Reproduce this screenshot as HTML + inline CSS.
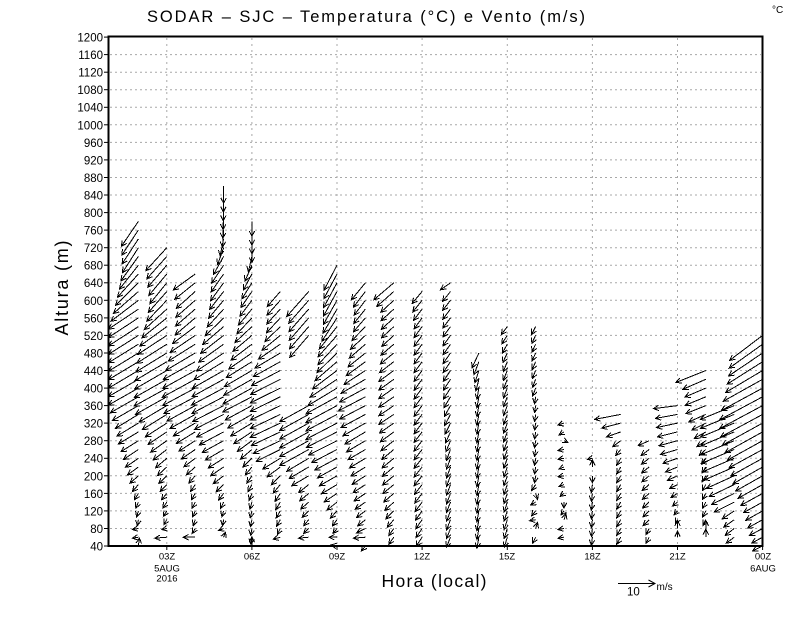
<!DOCTYPE html>
<html>
<head>
<meta charset="utf-8">
<style>
html,body{margin:0;padding:0;background:#fff;}
svg{display:block;}
text{font-family:"Liberation Sans",sans-serif;fill:#000;}
</style>
</head>
<body>
<svg id="chart" width="800" height="618" viewBox="0 0 800 618" xmlns="http://www.w3.org/2000/svg">
<rect x="0" y="0" width="800" height="618" fill="#fff"/>
<!-- title -->
<text x="147" y="22" font-size="16.5" textLength="438" lengthAdjust="spacing">SODAR – SJC – Temperatura (°C) e Vento (m/s)</text>
<text x="772" y="13" font-size="10">°C</text>

<!-- grid -->
<g stroke="#a8a8a8" stroke-width="1" stroke-dasharray="2 3" fill="none" id="grid"></g>

<!-- vectors -->
<path id="vec" d="" stroke="#000" stroke-width="1" fill="none" shape-rendering="crispEdges"/>

<!-- frame -->
<rect x="108.5" y="36.5" width="654" height="509.5" fill="none" stroke="#000" stroke-width="2"/>
<g id="ticks" stroke="#000" stroke-width="1"></g>

<!-- y labels -->
<g font-size="11.5" text-anchor="end">
<text x="103" y="41.5">1200</text>
<text x="103" y="59.1">1160</text>
<text x="103" y="76.6">1120</text>
<text x="103" y="94.2">1080</text>
<text x="103" y="111.7">1040</text>
<text x="103" y="129.3">1000</text>
<text x="103" y="146.8">960</text>
<text x="103" y="164.4">920</text>
<text x="103" y="181.9">880</text>
<text x="103" y="199.5">840</text>
<text x="103" y="217.0">800</text>
<text x="103" y="234.6">760</text>
<text x="103" y="252.1">720</text>
<text x="103" y="269.7">680</text>
<text x="103" y="287.2">640</text>
<text x="103" y="304.8">600</text>
<text x="103" y="322.3">560</text>
<text x="103" y="339.9">520</text>
<text x="103" y="357.4">480</text>
<text x="103" y="375.0">440</text>
<text x="103" y="392.5">400</text>
<text x="103" y="410.1">360</text>
<text x="103" y="427.6">320</text>
<text x="103" y="445.2">280</text>
<text x="103" y="462.7">240</text>
<text x="103" y="480.3">200</text>
<text x="103" y="497.8">160</text>
<text x="103" y="515.4">120</text>
<text x="103" y="532.9">80</text>
<text x="103" y="550.5">40</text>
</g>

<!-- x labels -->
<g font-size="9.5" text-anchor="middle">
<text x="167" y="559.5">03Z</text>
<text x="167" y="571.7">5AUG</text>
<text x="167" y="581.7">2016</text>
<text x="252" y="559.5">06Z</text>
<text x="337" y="559.5">09Z</text>
<text x="422" y="559.5">12Z</text>
<text x="507" y="559.5">15Z</text>
<text x="592.5" y="559.5">18Z</text>
<text x="677.5" y="559.5">21Z</text>
<text x="763" y="559.5">00Z</text>
<text x="763" y="571.7">6AUG</text>
</g>

<!-- axis titles -->
<text transform="translate(68,288) rotate(-90)" font-size="18" text-anchor="middle" textLength="95" lengthAdjust="spacing">Altura (m)</text>
<text x="381.5" y="587" font-size="17.5" textLength="105" lengthAdjust="spacing">Hora (local)</text>

<!-- legend -->
<path d="M618 583.5 L655 583.5 M648.5 580 L655 583.5 L648.5 587" stroke="#000" stroke-width="1" fill="none"/>
<text x="627" y="595.5" font-size="11.5">10</text>
<text x="656.5" y="590" font-size="10">m/s</text>
</svg>

<script>
(function(){
var NS="http://www.w3.org/2000/svg";
function X(h){return 81.7+28.37*h;}
function Y(z){return 546-(z-40)*0.43875;}
// grid
var g=document.getElementById('grid');
for(var z=80;z<=1160;z+=40){
  var l=document.createElementNS(NS,'line');
  l.setAttribute('x1',110);l.setAttribute('x2',761);
  l.setAttribute('y1',Y(z).toFixed(1));l.setAttribute('y2',Y(z).toFixed(1));
  g.appendChild(l);
}
for(var h=3;h<=21;h+=3){
  var l=document.createElementNS(NS,'line');
  l.setAttribute('x1',X(h).toFixed(1));l.setAttribute('x2',X(h).toFixed(1));
  l.setAttribute('y1',38);l.setAttribute('y2',545);
  l.setAttribute('stroke-dasharray','2 4');
  g.appendChild(l);
}
// ticks
var t=document.getElementById('ticks');
for(var z=40;z<=1200;z+=40){
  var l=document.createElementNS(NS,'line');
  l.setAttribute('x1',104);l.setAttribute('x2',108);
  l.setAttribute('y1',Y(z).toFixed(1));l.setAttribute('y2',Y(z).toFixed(1));
  t.appendChild(l);
}
for(var h=3;h<=24;h+=3){
  var l=document.createElementNS(NS,'line');
  l.setAttribute('x1',X(h).toFixed(1));l.setAttribute('x2',X(h).toFixed(1));
  l.setAttribute('y1',546);l.setAttribute('y2',550);
  t.appendChild(l);
}

var C={
2:{k:[[780,-17,25],[720,-16,25],[680,-19,24],[620,-25,22],[580,-30,20],[400,-30,17],[360,-26,15],[340,-23,14],[300,-20,12],[260,-15,10],[220,-11,8],[180,-6,7],[150,-3,6],[100,-1,6],[80,-6,1],[60,-6,1]]},
3:{k:[[720,-21,23],[680,-19,22],[640,-17,21],[600,-20,21],[560,-25,20],[520,-29,19],[460,-32,19],[390,-33,18],[350,-26,16],[310,-20,13],[270,-15,11],[230,-10,9],[185,-7,7],[140,-4,6],[100,-3,5],[80,-5,1],[60,-12,1]]},
4:{k:[[660,-22,16],[620,-19,17],[560,-20,17],[530,-24,17],[500,-27,17],[460,-32,18],[420,-33,18],[385,-32,17],[350,-27,15],[310,-20,12],[270,-15,10],[230,-10,8],[190,-5,7],[140,-3,6],[100,-2,6],[80,-3,5],[60,-12,0]]},
5:{k:[[860,0,17],[760,-1,17],[720,-6,17],[700,-10,18],[680,-12,18],[640,-13,18],[600,-15,18],[570,-17,18],[540,-21,18],[510,-24,18],[480,-27,18],[450,-31,18],[400,-32,17],[360,-31,16],[320,-27,14],[285,-22,12],[245,-16,10],[205,-11,8],[170,-6,7],[130,-2,6],[100,-1,6],[80,-5,2],[60,2,-5]]},
6:{k:[[780,0,15],[720,0,15],[680,-7,16],[640,-10,16],[600,-12,16],[560,-15,16],[520,-19,16],[490,-22,16],[450,-27,16],[400,-29,16],[380,-29,15],[345,-25,14],[305,-19,12],[265,-12,10],[225,-7,8],[185,-4,7],[140,-2,7],[60,-1,7]]},
7:{k:[[620,-13,15],[550,-14,15],[515,-19,15],[483,-25,15],[437,-29,15],[410,-30,15],[310,-30,14],[263,-25,12],[247,-19,11],[200,-9,9],[158,-5,8],[115,-4,7],[80,-3,6],[60,-7,2]]},
8:{k:[[620,-22,25],[600,-20,23],[520,-19,22],[360,-29,16],[260,-29,16],[240,-22,13],[200,-17,10],[180,-10,8],[140,-8,7],[100,-5,6],[80,-5,5],[60,-10,1]],gap:[520,360]},
9:{k:[[680,-13,25],[570,-14,24],[530,-19,22],[490,-19,20],[460,-22,19],[420,-27,18],[380,-31,17],[310,-31,16],[290,-30,15],[257,-25,13],[225,-20,11],[175,-15,9],[140,-10,8],[110,-5,7],[80,-4,5],[60,-8,0]]},
10:{k:[[640,-14,17],[610,-11,15],[560,-12,14],[520,-15,14],[485,-17,14],[450,-20,14],[415,-25,14],[375,-27,14],[335,-24,13],[295,-20,12],[255,-17,10],[215,-14,9],[175,-12,8],[135,-10,7],[90,-7,6],[60,-12,1]]},
11:{k:[[640,-20,17],[620,-17,15],[600,-13,12],[520,-12,11],[440,-15,11],[340,-15,10],[260,-12,10],[180,-11,9],[120,-8,8],[80,-5,7],[60,-5,7]]},
12:{k:[[620,-10,12],[560,-8,11],[400,-8,11],[200,-8,10],[80,-6,9],[60,-6,9]]},
13:{k:[[640,-10,7],[620,-8,10],[400,-7,11],[250,-4,11],[60,-4,10]]},
14:{k:[[480,-7,15],[460,-5,13],[400,-2,11],[60,-2,11]]},
15:{k:[[540,-6,8],[460,-4,10],[60,-3,10]]},
16:{k:[[540,-4,8],[400,-3,8],[380,-1,7],[200,-1,7],[180,-4,6],[160,2,6],[140,-5,3],[120,-4,5],[100,-6,1],[80,2,-6],[60,-3,6]]},
17:{k:[[320,-6,2],[300,-5,3],[280,4,2],[260,-6,1],[240,-6,1],[220,-5,2],[200,-6,1],[180,-5,2],[160,-4,3],[140,0,6],[120,-3,4],[100,2,-6],[80,-6,1],[60,-6,1]]},
18:{k:[[240,-5,1],[220,0,-7],[200,0,7],[180,-1,8],[60,-1,8]]},
19:{k:[[340,-26,5],[320,-19,5],[300,-14,5],[280,-8,6],[260,-5,6],[240,-4,7],[60,-4,7]]},
20:{k:[[280,-11,5],[260,-8,6],[100,-6,6],[80,-3,6],[60,-3,6]]},
21:{k:[[360,-24,3],[340,-22,4],[300,-20,5],[260,-17,5],[220,-12,5],[180,-8,4],[140,-5,4],[100,-2,4],[80,0,-8],[60,0,-6]]},
22:{k:[[440,-30,12],[420,-23,10],[400,-21,9],[360,-20,8],[320,-14,7],[280,-9,6],[240,-4,6],[100,-3,6],[80,0,-8],[60,0,-8]]},
23:{k:[[360,-34,14],[260,-33,14],[220,-30,13],[180,-25,12],[140,-20,10],[120,-12,8],[80,-9,7],[60,-8,6]]},
24:{k:[[520,-33,25],[480,-34,23],[440,-37,22],[415,-40,22],[380,-43,23],[350,-43,23],[316,-40,22],[288,-36,20],[254,-33,18],[222,-30,17],[184,-25,14],[147,-20,11],[113,-16,9],[77,-13,7],[60,-11,6],[40,-10,5]],min:40}
};
var extras=[[2,40,1,-8],[6,40,0,-9],[9,40,-6,-1],[10,40,-4,5]];
var d='';
function f(v){return v.toFixed(1);}
function arrow(x,y,dx,dy){
  var len=Math.sqrt(dx*dx+dy*dy); if(len<0.5) return;
  var hx=x+dx, hy=y+dy;
  d+='M'+f(x)+' '+f(y)+'L'+f(hx)+' '+f(hy);
  var ux=-dx/len, uy=-dy/len, L=6, a=0.47;
  var c=Math.cos(a), s=Math.sin(a);
  var b1x=hx+L*(ux*c-uy*s), b1y=hy+L*(ux*s+uy*c);
  var b2x=hx+L*(ux*c+uy*s), b2y=hy+L*(-ux*s+uy*c);
  d+='M'+f(b1x)+' '+f(b1y)+'L'+f(hx)+' '+f(hy)+'L'+f(b2x)+' '+f(b2y);
}
for(var hk in C){
  var col=C[hk], kp=col.k, top=kp[0][0], zmin=col.min||60;
  for(var z=top; z>=zmin-0.1; z-=20){
    if(col.gap && z<col.gap[0] && z>col.gap[1]) continue;
    var dx=kp[kp.length-1][1], dy=kp[kp.length-1][2];
    for(var i=0;i<kp.length-1;i++){
      if(z<=kp[i][0] && z>=kp[i+1][0]){
        var tt=(kp[i][0]-z)/(kp[i][0]-kp[i+1][0]);
        dx=kp[i][1]+tt*(kp[i+1][1]-kp[i][1]);
        dy=kp[i][2]+tt*(kp[i+1][2]-kp[i][2]);
        break;
      }
    }
    arrow(X(+hk),Y(z),dx,dy);
  }
}
for(var e=0;e<extras.length;e++){
  arrow(X(extras[e][0]),Y(extras[e][1]),extras[e][2],extras[e][3]);
}
document.getElementById('vec').setAttribute('d',d);
})();
</script>
</body>
</html>
